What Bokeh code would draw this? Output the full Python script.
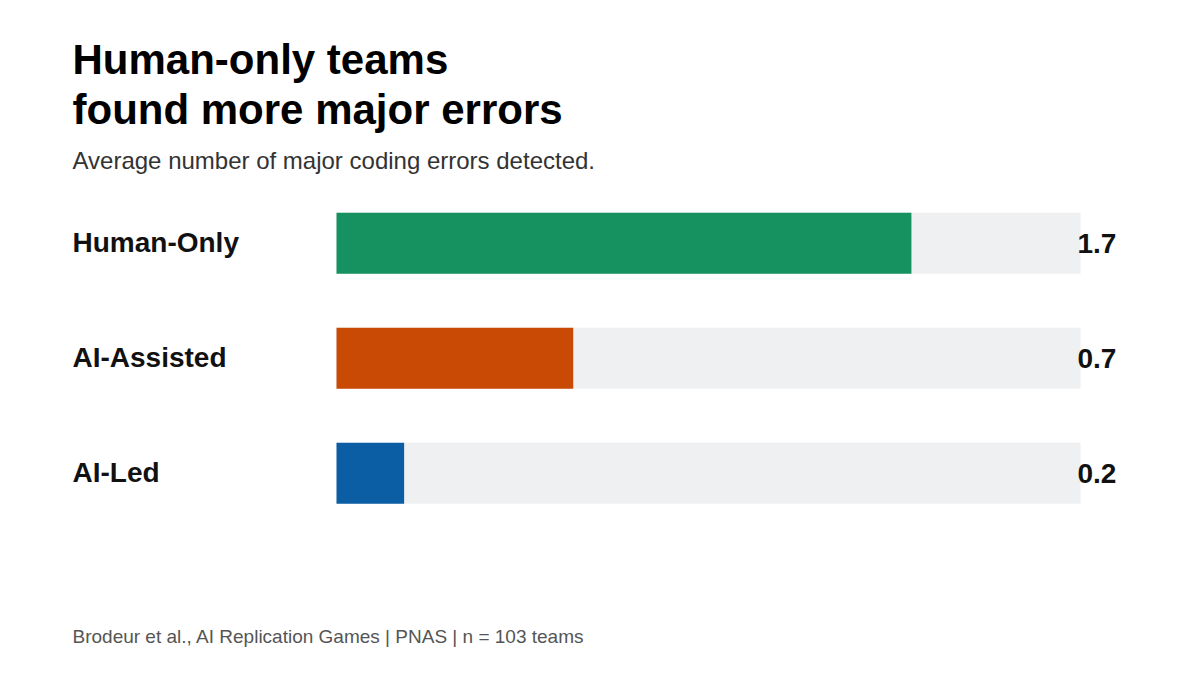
from bokeh.plotting import figure
from bokeh.models import Range1d, ColumnDataSource
from bokeh.core.properties import value
from bokeh.embed import file_html
from bokeh.resources import INLINE

# ---- data ----
categories = ["Human-Only", "AI-Assisted", "AI-Led"]
values = [1.7, 0.7, 0.2]
value_labels = ["1.7", "0.7", "0.2"]
colors = ["#169160", "#C94A05", "#0B5EA4"]
scale_max = 2.2

title_lines = ["Human-only teams", "found more major errors"]
subtitle = "Average number of major coding errors detected."
footer = "Brodeur et al., AI Replication Games | PNAS | n = 103 teams"

# ---- layout (pixels in figure space) ----
W, H = 1200, 675
track_left_px, track_right_px = 336, 1080
px_per_unit = (track_right_px - track_left_px) / scale_max
first_center_px = 242.8
row_step_px = 115.0
bar_h_px = 61.0

x_start = -track_left_px / px_per_unit
x_end = scale_max + (W - track_right_px) / px_per_unit
y_top = -first_center_px / row_step_px
y_bottom = (H - first_center_px) / row_step_px

def xd(px):
    return x_start + px / px_per_unit

def yd(px):
    return y_top + px / row_step_px

FONT = value("Liberation Sans")

p = figure(width=W, height=H, output_backend="svg", toolbar_location=None,
           x_range=Range1d(x_start, x_end), y_range=Range1d(y_bottom, y_top),
           min_border=0, min_border_left=0, min_border_right=0,
           min_border_top=0, min_border_bottom=0)
p.axis.visible = False
p.grid.visible = False
p.outline_line_color = None
p.background_fill_color = "white"
p.border_fill_color = "white"

idx = list(range(len(categories)))
src = ColumnDataSource(dict(y=idx, v=values, c=colors, cat=categories,
                            lab=value_labels, full=[scale_max] * len(idx)))

bh = bar_h_px / row_step_px
p.hbar(y="y", left=0, right="full", height=bh, source=src,
       fill_color="#EFF0F2", line_color=None)
p.hbar(y="y", left=0, right="v", height=bh, source=src,
       fill_color="c", line_color=None)

# category labels
p.text(x=xd(72), y="y", text="cat", source=src, text_font=FONT,
       text_font_size="28px", text_font_style="bold", text_color="#111111",
       text_baseline="alphabetic", text_align="left", y_offset=-1)
# value labels
p.text(x="full", y="y", text="lab", source=src, text_font=FONT,
       text_font_size="28px", text_font_style="bold", text_color="#111111",
       text_baseline="alphabetic", text_align="left", x_offset=-3, y_offset=0)

# title
p.text(x=[xd(72), xd(72)], y=[yd(59), yd(109)], text=title_lines,
       text_font=FONT, text_font_size="42px", text_font_style="bold",
       text_color="#000000", text_baseline="alphabetic", text_align="left")
# subtitle
p.text(x=[xd(72)], y=[yd(160)], text=[subtitle], text_font=FONT,
       text_font_size="24px", text_color="#333333",
       text_baseline="alphabetic", text_align="left")
# footer
p.text(x=[xd(72)], y=[yd(636.2)], text=[footer], text_font=FONT,
       text_font_size="19px", text_color="#555555",
       text_baseline="alphabetic", text_align="left")

open("out.html", "w").write(file_html(p, INLINE))
